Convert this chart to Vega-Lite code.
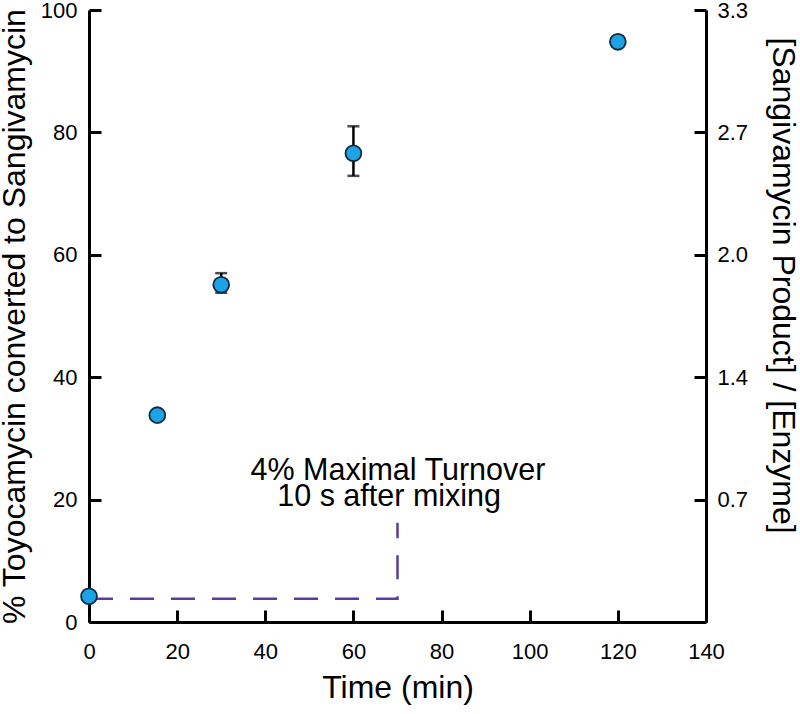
{
  "$schema": "https://vega.github.io/schema/vega-lite/v6.json",
  "width": 617,
  "height": 612,
  "autosize": {"type": "none"},
  "padding": {"left": 89, "top": 10, "right": 94, "bottom": 92},
  "background": "white",
  "config": {
    "view": {"stroke": null},
    "font": "Liberation Sans",
    "axis": {
      "domainColor": "black",
      "domainWidth": 3,
      "tickColor": "black",
      "tickWidth": 3,
      "tickSize": -12,
      "labelColor": "black",
      "labelFont": "Liberation Sans",
      "labelFontSize": 22,
      "labelFlush": false,
      "labelOverlap": false,
      "titleFont": "Liberation Sans",
      "titleFontSize": 32,
      "titleFontWeight": "normal",
      "titleColor": "black",
      "grid": false
    }
  },
  "datasets": {
    "points": [
      {"t": 0, "v": 4.2},
      {"t": 15.5, "v": 33.8},
      {"t": 30, "v": 55.1},
      {"t": 60, "v": 76.6},
      {"t": 120, "v": 94.8}
    ],
    "errors": [
      {"t": 30, "lo": 53.8, "hi": 57.0},
      {"t": 60, "lo": 72.9, "hi": 81.0}
    ],
    "dash": [
      {"o": 1, "t": 0, "v": 3.8},
      {"o": 2, "t": 70, "v": 3.8},
      {"o": 3, "t": 70, "v": 16.2}
    ],
    "notes": [
      {"t": 70.1, "v": 23.2, "label": "4% Maximal Turnover"},
      {"t": 68.1, "v": 18.95, "label": "10 s after mixing"}
    ]
  },
  "layer": [
    {
      "data": {"name": "dash"},
      "mark": {"type": "line", "color": "#5b3c9e", "strokeWidth": 2.5, "strokeDash": [24, 17]},
      "encoding": {
        "x": {"field": "t", "type": "quantitative", "scale": {"domain": [0, 140], "nice": false}, "axis": null},
        "y": {
          "field": "v", "type": "quantitative", "scale": {"domain": [0, 100], "nice": false},
          "axis": {
            "orient": "right",
            "title": "[Sangivamycin Product] / [Enzyme]",
            "values": [20, 40, 60, 80, 100],
            "labelExpr": "datum.value == 20 ? '0.7' : datum.value == 40 ? '1.4' : datum.value == 60 ? '2.0' : datum.value == 80 ? '2.7' : '3.3'",
            "labelPadding": 23,
            "titleX": 59,
            "titleY": 275
          }
        },
        "order": {"field": "o"}
      }
    },
    {
      "data": {"name": "errors"},
      "mark": {"type": "rule", "color": "black", "strokeWidth": 2.5},
      "encoding": {
        "x": {"field": "t", "type": "quantitative", "axis": null},
        "y": {"field": "lo", "type": "quantitative", "axis": null},
        "y2": {"field": "hi"}
      }
    },
    {
      "data": {"name": "errors"},
      "mark": {"type": "tick", "orient": "horizontal", "color": "black", "size": 12, "thickness": 2.5},
      "encoding": {
        "x": {"field": "t", "type": "quantitative", "axis": null},
        "y": {"field": "lo", "type": "quantitative", "axis": null}
      }
    },
    {
      "data": {"name": "errors"},
      "mark": {"type": "tick", "orient": "horizontal", "color": "black", "size": 12, "thickness": 2.5},
      "encoding": {
        "x": {"field": "t", "type": "quantitative", "axis": null},
        "y": {"field": "hi", "type": "quantitative", "axis": null}
      }
    },
    {
      "data": {"name": "points"},
      "mark": {"type": "point", "shape": "circle", "filled": true, "size": 250, "fill": "#1ba3e6", "stroke": "#0f2a3f", "strokeWidth": 1.8, "opacity": 1},
      "encoding": {
        "x": {
          "field": "t", "type": "quantitative",
          "axis": {"orient": "bottom", "title": "Time (min)", "values": [0, 20, 40, 60, 80, 100, 120, 140], "labelPadding": 31, "titleY": 50}
        },
        "y": {
          "field": "v", "type": "quantitative",
          "axis": {"orient": "left", "title": "% Toyocamycin converted to Sangivamycin", "values": [0, 20, 40, 60, 80, 100], "labelPadding": 24, "titleX": -58}
        }
      }
    },
    {
      "data": {"name": "notes"},
      "mark": {"type": "text", "font": "Liberation Sans", "fontSize": 30.5, "color": "black", "align": "center", "baseline": "alphabetic"},
      "encoding": {
        "x": {"field": "t", "type": "quantitative", "axis": null},
        "y": {"field": "v", "type": "quantitative", "axis": null},
        "text": {"field": "label"}
      }
    }
  ],
  "resolve": {"axis": {"x": "independent", "y": "independent"}}
}
